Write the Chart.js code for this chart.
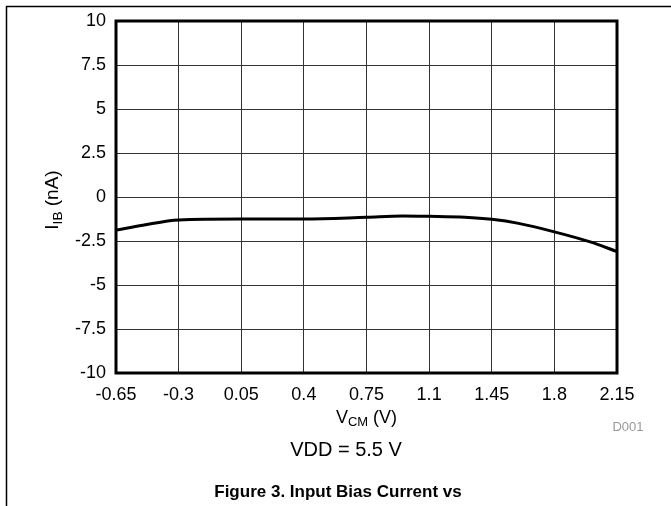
<!DOCTYPE html>
<html>
<head>
<meta charset="utf-8">
<script src="https://cdn.jsdelivr.net/npm/chart.js@4/dist/chart.umd.min.js"></script>
<style>
  html, body { margin: 0; padding: 0; background: #fff; }
  #wrap { position: relative; width: 671px; height: 506px; }
</style>
</head>
<body>
<div id="wrap"><canvas id="mainChart" width="671" height="506"></canvas></div>
<script>
// --- DADOS ---
const vcm = [-0.65, -0.5, -0.3, 0.05, 0.4, 0.75, 0.95, 1.1, 1.3, 1.45, 1.6, 1.8, 2.0, 2.15];
const ibias = [-1.88, -1.6, -1.3, -1.25, -1.25, -1.15, -1.08, -1.1, -1.15, -1.27, -1.5, -1.98, -2.55, -3.1];
const xTicks = [-0.65, -0.3, 0.05, 0.4, 0.75, 1.1, 1.45, 1.8, 2.15];
const xTickLabels = ['-0.65', '-0.3', '0.05', '0.4', '0.75', '1.1', '1.45', '1.8', '2.15'];
const yTicks = [-10, -7.5, -5, -2.5, 0, 2.5, 5, 7.5, 10];
const yTickLabels = ['-10', '-7.5', '-5', '-2.5', '0', '2.5', '5', '7.5', '10'];

const FONT = 'Arial, "Liberation Sans", sans-serif';

// texto com subscrito (I_IB, V_CM)
function drawSub(ctx, parts, x, y, size) {
    // parts: [[texto, subscrito?], ...]
    let total = 0;
    parts.forEach(p => {
        ctx.font = (p[1] ? size * 0.72 : size) + 'px ' + FONT;
        total += ctx.measureText(p[0]).width;
    });
    let cx = x - total / 2;
    parts.forEach(p => {
        ctx.font = (p[1] ? size * 0.72 : size) + 'px ' + FONT;
        ctx.fillText(p[0], cx, y + (p[1] ? size * 0.25 : 0));
        cx += ctx.measureText(p[0]).width;
    });
}

const extras = {
    id: 'extras',
    afterDraw(chart) {
        const ctx = chart.ctx;
        const a = chart.chartArea;
        ctx.save();
        // moldura da página
        ctx.strokeStyle = '#000';
        ctx.lineWidth = 1.5;
        ctx.beginPath();
        ctx.moveTo(6.5, 506);
        ctx.lineTo(6.5, 6.5);
        ctx.lineTo(671, 6.5);
        ctx.stroke();

        // borda grossa do gráfico
        ctx.lineWidth = 3;
        ctx.strokeRect(a.left, a.top, a.right - a.left, a.bottom - a.top);

        ctx.fillStyle = '#000';
        ctx.textAlign = 'left';
        ctx.textBaseline = 'middle';
        const midX = (a.left + a.right) / 2;
        drawSub(ctx, [['V', false], ['CM', true], [' (V)', false]], midX, 418, 18);

        ctx.save();
        ctx.translate(53, 200);
        ctx.rotate(-Math.PI / 2);
        drawSub(ctx, [['I', false], ['IB', true], [' (nA)', false]], 0, 0, 19);
        ctx.restore();

        ctx.textAlign = 'center';
        ctx.fillStyle = '#999';
        ctx.font = '13px ' + FONT;
        ctx.fillText('D001', 628, 427);

        ctx.fillStyle = '#000';
        ctx.font = '20px ' + FONT;
        ctx.fillText('VDD = 5.5 V', 346, 450);

        ctx.font = 'bold 17px ' + FONT;
        ctx.fillText('Figure 3. Input Bias Current vs', 338, 492);
        ctx.restore();
    }
};

const ctx = document.getElementById('mainChart').getContext('2d');
const mainChart = new Chart(ctx, {
    type: 'scatter',
    data: {
        datasets: [{
            data: vcm.map((v, i) => ({ x: v, y: ibias[i] })),
            showLine: true,
            borderColor: '#000',
            borderWidth: 3,
            pointRadius: 0,
            cubicInterpolationMode: 'monotone',
            fill: false
        }]
    },
    options: {
        responsive: false,
        animation: false,
        layout: { padding: { left: 0, top: 21, right: 54, bottom: 0 } },
        plugins: { legend: { display: false }, tooltip: { enabled: false } },
        scales: {
            x: {
                type: 'linear',
                min: -0.65,
                max: 2.15,
                afterBuildTicks: s => { s.ticks = xTicks.map(v => ({ value: v })); },
                afterFit: s => { s.height = 506 - 373; },
                ticks: {
                    callback: (v, i) => xTickLabels[i],
                    color: '#000',
                    font: { family: FONT, size: 18 },
                    padding: 11,
                    maxRotation: 0,
                    autoSkip: false
                },
                grid: { color: '#333', lineWidth: 1, drawTicks: false },
                border: { display: false }
            },
            y: {
                min: -10,
                max: 10,
                afterBuildTicks: s => { s.ticks = yTicks.map(v => ({ value: v })); },
                afterFit: s => { s.width = 116; },
                ticks: {
                    callback: (v, i) => yTickLabels[i],
                    color: '#000',
                    font: { family: FONT, size: 18 },
                    padding: 10,
                    autoSkip: false
                },
                grid: { color: '#333', lineWidth: 1, drawTicks: false },
                border: { display: false }
            }
        }
    },
    plugins: [extras]
});
</script>
</body>
</html>
